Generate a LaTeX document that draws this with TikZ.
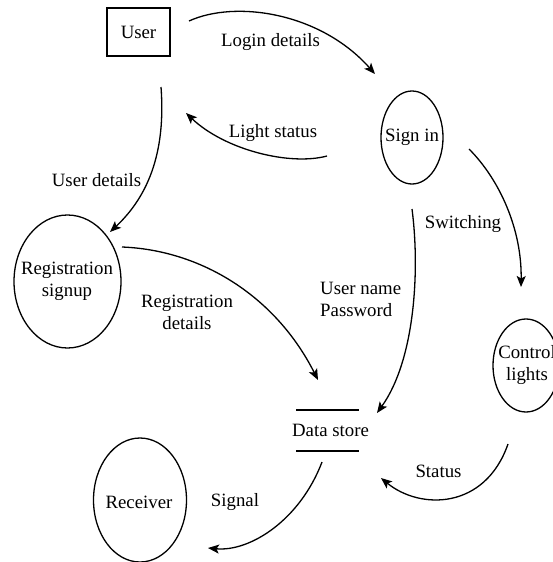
\documentclass[tikz,border=0pt]{standalone}
\usepackage{fontspec}
\setmainfont{Liberation Serif}
\usetikzlibrary{arrows.meta,shapes.geometric}
\tikzset{
  proc/.style={draw, ellipse, line width=1.3pt, inner sep=0pt},
  lbl/.style={inner sep=0pt, align=center},
  flow/.style={line width=1.3pt, -{Stealth[length=11pt,width=9pt,inset=2.5pt]}},
  ext/.style={draw, rectangle, line width=1.6pt, inner sep=0pt, minimum width=63pt, minimum height=48pt}
}
\begin{document}
\begin{tikzpicture}[x=1pt,y=-1pt,font=\fontsize{18.8}{22}\selectfont]
\useasboundingbox (0,0) rectangle (553,562);
% nodes
\node[ext] (user) at (138.5,32) {User};
\node[proc, minimum width=62pt, minimum height=93pt] (signin) at (412,137.5) {};
\node[lbl] (signintxt) at (412,137) {Sign in};
\node[proc, minimum width=107pt, minimum height=133pt] (reg) at (67.5,281.5) {};
\node[lbl] (regtxt) at (67,281) {Registration\\signup};
\node[proc, minimum width=66pt, minimum height=93pt] (ctrl) at (526,365.5) {};
\node[lbl] (ctrltxt) at (527,365) {Control\\lights};
\node[proc, minimum width=93pt, minimum height=124pt] (recv) at (140,500) {};
\node[lbl] (recvtxt) at (139,502) {Receiver};
\node[lbl] (ds) at (330.5,430) {Data store};
\draw[line width=1.3pt] (296,410) -- (359,410);
\draw[line width=1.3pt] (296,451) -- (359,451);
% connector end points
\coordinate (a1) at (189,21);   \coordinate (a2) at (375,74);
\coordinate (b1) at (327,156);  \coordinate (b2) at (186,113);
\coordinate (c1) at (161,87);   \coordinate (c2) at (110,232);
\coordinate (d1) at (122,247);  \coordinate (d2) at (318,380);
\coordinate (e1) at (469,149);  \coordinate (e2) at (521,287);
\coordinate (f1) at (412,209);  \coordinate (f2) at (377,413);
\coordinate (g1) at (508,444);  \coordinate (g2) at (381,478);
\coordinate (h1) at (322,462);  \coordinate (h2) at (208,548);
% connectors
\draw[flow] (a1) .. controls (235,0) and (320,12) .. (a2);
\draw[flow] (b1) .. controls (290,166) and (225,150) .. (b2);
\draw[flow] (c1) .. controls (165,140) and (155,190) .. (c2);
\draw[flow] (d1) .. controls (200,250) and (275,295) .. (d2);
\draw[flow] (e1) .. controls (500,180) and (522,230) .. (e2);
\draw[flow] (f1) .. controls (420,270) and (415,360) .. (f2);
\draw[flow] (g1) .. controls (485,510) and (420,510) .. (g2);
\draw[flow] (h1) .. controls (300,520) and (250,552) .. (h2);
% labels
\node[lbl] (l1) at (270.5,42) {Login details};
\node[lbl] (l2) at (273,133) {Light status};
\node[lbl] (l3) at (96.5,180) {User details};
\node[lbl] (l4) at (187,312) {Registration\\details};
\node[lbl] (l5) at (463,224) {Switching};
\node[lbl, align=left, anchor=west] (l6) at (320,299.5) {User name\\Password};
\node[lbl] (l7) at (438.5,471) {Status};
\node[lbl] (l8) at (235,502) {Signal};
\end{tikzpicture}
\end{document}
